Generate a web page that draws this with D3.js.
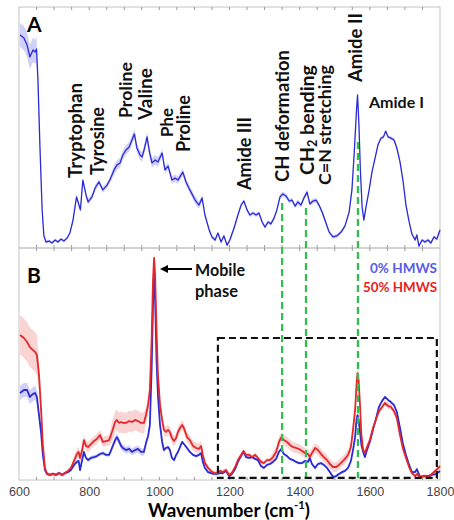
<!DOCTYPE html>
<html>
<head>
<meta charset="utf-8">
<script src="https://cdn.jsdelivr.net/npm/d3@7"></script>
<style>
  body { margin: 0; background: #fff; }
  svg { display: block; }
</style>
</head>
<body>
<svg id="chart" width="454" height="520"></svg>
<script>
// === DATA ===
// Panel A: mean spectrum (arbitrary units, 0-100) and its spread
const waveA = [603, 614, 623, 631, 640, 646, 650, 654, 660, 666,
  671, 677, 686, 694, 703, 711, 720, 728, 737, 745,
  754, 764, 771, 775, 782, 791, 797, 808, 817, 828,
  839, 851, 859, 871, 879, 888, 896, 905, 914, 922,
  929, 936, 945, 951, 958, 965, 972, 979, 988, 996,
  1008, 1016, 1025, 1036, 1045, 1053, 1067, 1076, 1087, 1102,
  1113, 1122, 1130, 1142, 1150, 1159, 1167, 1176, 1184, 1193,
  1201, 1213, 1224, 1233, 1241, 1250, 1258, 1267, 1276, 1284,
  1293, 1301, 1310, 1318, 1327, 1335, 1344, 1352, 1361, 1370,
  1378, 1387, 1395, 1404, 1412, 1421, 1429, 1438, 1447, 1455,
  1464, 1472, 1484, 1495, 1506, 1518, 1529, 1541, 1549, 1556,
  1562, 1565, 1569, 1573, 1578, 1583, 1589, 1598, 1606, 1615,
  1623, 1632, 1639, 1645, 1652, 1660, 1669, 1677, 1686, 1695,
  1703, 1712, 1720, 1729, 1734, 1740, 1749, 1757, 1766, 1774,
  1783, 1791, 1800];
const intA = [88.4, 87.1, 84.2, 79.3, 82.2, 81.3, 82.6, 69.7, 40.7, 15.8,
  5.0, 2.5, 2.9, 2.1, 3.3, 2.5, 3.7, 2.9, 4.1, 6.2,
  11.6, 21.2, 17.8, 15.8, 28.2, 22.0, 19.1, 21.2, 24.9, 27.4,
  24.1, 26.1, 28.2, 32.4, 34.4, 35.3, 38.6, 40.7, 41.9, 44.8,
  47.3, 41.5, 38.6, 37.8, 41.5, 46.1, 39.8, 35.3, 36.5, 35.7,
  39.4, 32.4, 34.0, 28.2, 29.0, 28.2, 31.5, 27.4, 24.1, 19.9,
  17.8, 20.7, 13.7, 7.5, 4.6, 3.3, 6.2, 2.5, 5.0, 1.2,
  3.3, 8.3, 13.7, 17.8, 19.5, 15.8, 13.7, 14.5, 13.7, 14.5,
  10.8, 8.7, 10.8, 10.0, 12.4, 15.8, 21.2, 22.4, 21.6, 19.5,
  19.9, 17.4, 19.1, 17.8, 20.7, 23.2, 18.3, 19.5, 19.9, 17.8,
  14.9, 11.6, 6.6, 4.6, 5.0, 6.6, 9.1, 14.9, 24.1, 40.7,
  57.3, 63.5, 51.0, 32.4, 17.0, 11.6, 17.0, 24.1, 31.5, 37.3,
  42.7, 45.6, 46.1, 48.5, 46.1, 45.6, 44.8, 41.5, 35.7, 27.4,
  17.8, 10.8, 5.8, 3.3, 5.4, 0.8, 3.3, 2.5, 3.3, 2.1,
  4.6, 3.7, 7.5];
const sdA = [5.0, 5.0, 5.0, 5.0, 5.0, 5.0, 5.0, 3.0, 1.5, 0.6,
  0.6, 0.6, 0.6, 0.6, 0.6, 0.6, 0.6, 0.6, 0.6, 0.6,
  1.2, 1.2, 1.2, 1.2, 1.2, 1.2, 1.2, 1.2, 1.2, 1.2,
  1.2, 1.2, 1.2, 2.0, 2.0, 2.0, 2.0, 2.0, 2.0, 2.0,
  2.0, 2.0, 2.0, 2.0, 2.0, 2.0, 2.0, 2.0, 2.0, 2.0,
  1.5, 1.5, 1.5, 1.5, 1.5, 1.5, 1.5, 1.5, 1.5, 1.5,
  1.5, 1.5, 0.8, 0.8, 0.8, 0.8, 0.8, 0.8, 0.8, 0.8,
  0.8, 0.8, 0.8, 0.8, 0.8, 0.8, 0.8, 0.8, 0.8, 0.8,
  0.8, 0.8, 0.8, 0.8, 0.8, 1.0, 1.0, 1.0, 1.0, 1.0,
  1.0, 1.0, 1.0, 1.0, 1.0, 1.0, 1.0, 1.0, 1.0, 1.0,
  1.0, 1.0, 0.8, 0.8, 0.8, 0.8, 0.8, 0.8, 1.2, 1.2,
  1.2, 1.2, 1.2, 1.2, 0.7, 0.7, 0.7, 0.7, 0.7, 0.7,
  0.7, 0.7, 0.7, 0.7, 0.7, 0.7, 0.7, 0.7, 0.7, 0.7,
  0.7, 0.7, 0.7, 0.7, 0.7, 0.7, 0.7, 0.7, 0.7, 0.7,
  0.7, 0.7, 0.7];

// Panel B: 0% HMWS (blue) and 50% HMWS (red) on one wavenumber grid
const waveB = [603, 614, 623, 631, 640, 646, 651, 657, 663, 668,
  674, 680, 688, 697, 705, 714, 723, 731, 740, 748,
  757, 765, 770, 774, 780, 785, 791, 797, 805, 814,
  822, 831, 839, 848, 857, 865, 874, 879, 885, 891,
  896, 905, 914, 922, 931, 939, 948, 956, 962, 968,
  973, 978, 982, 985, 988, 992, 996, 1002, 1008, 1013,
  1019, 1025, 1030, 1036, 1042, 1048, 1053, 1059, 1065, 1070,
  1079, 1087, 1096, 1105, 1113, 1119, 1124, 1130, 1139, 1147,
  1156, 1164, 1173, 1181, 1190, 1199, 1207, 1216, 1224, 1233,
  1240, 1247, 1256, 1264, 1273, 1281, 1290, 1298, 1307, 1315,
  1324, 1333, 1341, 1348, 1355, 1364, 1372, 1381, 1390, 1398,
  1407, 1415, 1424, 1429, 1435, 1444, 1452, 1461, 1469, 1478,
  1486, 1495, 1504, 1512, 1521, 1529, 1538, 1546, 1552, 1558,
  1562, 1565, 1568, 1572, 1576, 1581, 1586, 1592, 1600, 1609,
  1618, 1626, 1635, 1643, 1652, 1660, 1669, 1677, 1686, 1694,
  1703, 1712, 1720, 1729, 1734, 1743, 1754, 1766, 1777, 1789,
  1800];
const int0 = [37.5, 38.8, 38.8, 35.8, 37.1, 37.5, 35.8, 28.0, 20.3, 10.8,
  4.3, 2.6, 2.2, 2.6, 2.2, 3.0, 2.2, 3.0, 3.4, 4.3,
  6.5, 7.8, 8.2, 4.3, 8.6, 12.1, 9.5, 8.6, 9.5, 9.9,
  10.3, 11.2, 11.6, 10.8, 10.8, 13.8, 17.2, 18.5, 16.8, 14.7,
  13.8, 12.9, 13.4, 12.1, 12.9, 13.4, 12.1, 12.1, 15.9, 19.0,
  23.7, 47.4, 75.4, 89.7, 77.6, 51.7, 36.6, 23.7, 16.4, 12.9,
  13.8, 14.2, 12.9, 9.5, 8.6, 10.8, 12.1, 14.2, 16.4, 15.5,
  13.8, 12.1, 10.8, 10.3, 10.8, 11.6, 7.8, 5.2, 3.4, 3.0,
  2.6, 2.6, 3.0, 3.0, 3.9, 1.7, 2.6, 4.7, 7.8, 10.3,
  12.1, 9.9, 9.5, 9.9, 9.1, 8.6, 6.0, 5.2, 6.5, 6.9,
  7.8, 9.1, 12.1, 13.4, 11.2, 10.3, 9.1, 8.6, 7.8, 7.3,
  7.3, 8.2, 7.8, 9.5, 6.9, 5.2, 6.9, 7.3, 6.5, 5.2,
  3.4, 1.3, 1.7, 2.6, 3.4, 3.9, 5.2, 8.2, 12.9, 18.5,
  25.9, 28.0, 25.9, 20.7, 15.1, 12.1, 9.9, 12.9, 16.4, 21.6,
  26.7, 31.5, 34.1, 35.8, 34.5, 33.6, 32.3, 29.3, 22.4, 15.9,
  10.8, 6.5, 3.4, 3.4, 4.7, 1.3, 1.7, 1.7, 2.2, 2.6,
  3.9];
const sd0 = [3.0, 3.0, 3.0, 3.0, 3.0, 3.0, 3.0, 2.0, 1.5, 1.0,
  0.6, 0.6, 0.6, 0.6, 0.6, 0.6, 0.6, 0.6, 0.6, 0.6,
  0.8, 0.8, 0.8, 0.8, 0.8, 0.8, 0.8, 0.8, 0.8, 0.8,
  0.8, 0.8, 0.8, 0.8, 0.8, 1.5, 1.5, 1.5, 1.5, 1.5,
  1.5, 1.5, 1.5, 1.5, 1.5, 1.5, 1.5, 1.5, 1.0, 1.0,
  1.0, 1.0, 1.0, 1.0, 1.0, 1.0, 1.0, 1.0, 1.0, 1.0,
  0.6, 0.6, 0.6, 0.6, 0.6, 0.6, 0.6, 0.6, 0.6, 0.6,
  0.6, 0.6, 0.6, 0.6, 0.6, 0.6, 0.6, 0.6, 0.6, 0.6,
  0.6, 0.6, 0.6, 0.6, 0.6, 0.6, 0.6, 0.6, 0.6, 0.6,
  0.6, 0.6, 0.6, 0.6, 0.6, 0.6, 0.6, 0.6, 0.6, 0.6,
  0.6, 0.6, 0.6, 0.6, 0.6, 0.6, 0.6, 0.6, 0.6, 0.6,
  0.6, 0.6, 0.6, 0.6, 0.6, 0.6, 0.6, 0.6, 0.6, 0.6,
  0.6, 0.6, 0.6, 0.6, 0.6, 0.6, 0.6, 0.6, 1.0, 1.0,
  1.0, 1.0, 1.0, 1.0, 1.0, 0.6, 0.6, 0.6, 0.6, 0.6,
  0.6, 0.6, 0.6, 0.6, 0.6, 0.6, 0.6, 0.6, 0.6, 0.6,
  0.6, 0.6, 0.6, 0.6, 0.6, 0.6, 0.6, 0.6, 0.6, 0.6,
  0.6];
const int50 = [62.5, 61.2, 59.5, 57.3, 56.0, 55.2, 53.9, 45.3, 30.2, 15.1,
  5.2, 2.6, 2.2, 2.6, 2.2, 3.0, 2.2, 3.0, 3.9, 5.2,
  8.2, 11.2, 12.1, 9.5, 12.9, 17.2, 14.7, 14.2, 15.5, 16.8,
  17.7, 19.4, 16.4, 16.8, 17.2, 20.7, 25.0, 25.9, 24.6, 25.0,
  24.6, 24.6, 25.4, 25.0, 25.9, 25.4, 24.6, 24.6, 28.0, 32.3,
  38.8, 60.3, 86.2, 95.7, 88.4, 64.7, 45.3, 32.3, 25.9, 21.6,
  20.7, 21.6, 20.7, 18.1, 16.8, 18.1, 20.7, 22.4, 23.7, 22.4,
  18.5, 17.2, 14.7, 13.8, 13.4, 14.7, 10.8, 7.3, 5.2, 3.9,
  3.0, 3.0, 3.9, 3.4, 4.3, 2.2, 3.0, 5.6, 8.6, 10.8,
  12.5, 10.8, 10.8, 9.9, 10.8, 9.5, 7.8, 7.3, 8.6, 8.6,
  9.9, 12.1, 16.4, 18.5, 17.2, 16.4, 15.1, 14.2, 13.8, 13.4,
  12.5, 11.6, 11.2, 9.9, 11.6, 13.8, 12.9, 11.2, 9.9, 8.6,
  6.9, 5.6, 5.6, 6.5, 7.8, 9.1, 10.8, 14.2, 21.6, 30.2,
  40.9, 46.1, 43.1, 32.3, 19.4, 12.9, 11.6, 14.2, 17.2, 22.4,
  26.3, 29.7, 31.5, 33.2, 31.9, 31.5, 29.7, 26.7, 19.4, 13.8,
  9.5, 5.6, 3.0, 1.7, 2.6, 1.3, 1.7, 1.3, 2.6, 4.3,
  6.0];
const sd50 = [8.5, 8.5, 8.5, 8.5, 8.5, 8.5, 8.5, 6.0, 4.0, 2.5,
  0.8, 0.8, 0.8, 0.8, 0.8, 0.8, 0.8, 0.8, 0.8, 0.8,
  2.2, 2.2, 2.2, 2.2, 2.2, 2.2, 2.2, 2.2, 2.2, 2.2,
  2.2, 2.2, 2.2, 2.2, 2.2, 4.5, 4.5, 4.5, 4.5, 4.5,
  4.5, 4.5, 4.5, 4.5, 4.5, 4.5, 4.5, 4.5, 3.5, 3.5,
  3.5, 2.0, 2.0, 2.0, 2.0, 2.0, 2.5, 2.5, 2.5, 2.5,
  2.2, 2.2, 2.2, 2.2, 2.2, 2.2, 2.2, 2.2, 2.2, 2.2,
  2.2, 2.2, 2.2, 2.2, 2.2, 2.2, 1.0, 1.0, 1.0, 1.0,
  1.0, 1.0, 1.0, 1.0, 1.0, 1.0, 1.0, 1.0, 1.0, 1.0,
  1.0, 1.0, 1.0, 1.0, 1.0, 1.0, 1.0, 1.0, 1.0, 1.0,
  2.2, 2.2, 2.2, 2.2, 2.2, 2.2, 2.2, 2.2, 2.2, 2.2,
  2.2, 2.2, 2.2, 2.2, 2.2, 2.2, 2.2, 2.2, 2.2, 2.2,
  2.2, 2.2, 2.2, 2.2, 2.2, 2.2, 2.2, 2.2, 2.5, 2.5,
  2.5, 2.5, 2.5, 2.5, 2.5, 1.3, 1.3, 1.3, 1.3, 1.3,
  1.3, 1.3, 1.3, 1.3, 1.3, 1.3, 1.3, 1.3, 1.3, 1.3,
  0.8, 0.8, 0.8, 0.8, 0.8, 0.8, 0.8, 0.8, 0.8, 0.8,
  0.8];

const tickLabels = [600, 800, 1000, 1200, 1400, 1600, 1800];
const bandNames = ["Tryptophan", "Tyrosine", "Proline", "Valine", "Phe", "Proline",
  "Amide III", "CH deformation", "CH2 bending", "C=N stretching", "Amide II"];
const markerWaves = [1350, 1418, 1566];   // green dashed guides
const markerTops = [18.7, 16.6, 44];      // where each guide starts in panel A
const zoomBox = [1167, 1791, 0.9, 61.2];  // wave from/to, intensity B from/to
const seriesNames = ["0% HMWS", "50% HMWS"];

// === SCALES ===
const svg = d3.select("#chart");
const x = d3.scaleLinear().domain([600, 1800]).range([19, 440]);
const yA = d3.scaleLinear().domain([0, 100]).range([248, 7]);
const yB = d3.scaleLinear().domain([0, 100]).range([480, 248]);

const BLUE = "#2b2bd6", RED = "#e5262a", GREEN = "#2fbf4f";
const boldFont = "Lato, 'Open Sans', sans-serif";

// scale the font so the text takes the width measured on the figure
function fitText(sel, target) {
  const len = sel.node().getComputedTextLength();
  const size = parseFloat(sel.attr("font-size"));
  sel.attr("font-size", (size * target / len).toFixed(2));
}

// === FRAMES & TICKS ===
function drawFrame(y) {
  const [b, t] = y.range();
  svg.append("rect")
    .attr("x", x.range()[0]).attr("y", t)
    .attr("width", x.range()[1] - x.range()[0]).attr("height", b - t)
    .attr("fill", "none").attr("stroke", "#c4c4c4").attr("stroke-width", 1);
  const minor = d3.range(650, 1800, 50);
  svg.append("g").selectAll("line").data(minor).enter().append("line")
    .attr("x1", d => x(d)).attr("x2", d => x(d))
    .attr("y1", b).attr("y2", b - 3)
    .attr("stroke", "#9a9a9a");
  svg.append("g").selectAll("line").data(minor).enter().append("line")
    .attr("x1", d => x(d)).attr("x2", d => x(d))
    .attr("y1", t).attr("y2", t + 3)
    .attr("stroke", "#9a9a9a");
}
drawFrame(yA);
drawFrame(yB);

// bottom tick labels via axis
const axis = svg.append("g")
  .attr("transform", "translate(0,480)")
  .call(d3.axisBottom(x).tickValues(tickLabels).tickSize(0).tickPadding(7).tickFormat(d3.format("d")));
axis.select(".domain").remove();
axis.selectAll("text")
  .attr("font-family", "'Liberation Sans', Arial, sans-serif")
  .attr("font-size", 12.5)
  .attr("fill", "#444");

// === SPECTRA ===
function drawSeries(waves, vals, sds, y, color, band, width) {
  const rows = waves.map((w, i) => ({ w: w, v: vals[i], s: sds[i] }));
  svg.append("path").datum(rows)
    .attr("d", d3.area().x(d => x(d.w)).y0(d => y(d.v - d.s)).y1(d => y(d.v + d.s)))
    .attr("fill", band);
  return function () {
    svg.append("path").datum(rows)
      .attr("d", d3.line().x(d => x(d.w)).y(d => y(d.v)))
      .attr("fill", "none").attr("stroke", color)
      .attr("stroke-width", width).attr("stroke-linejoin", "round");
  };
}

const lineA = drawSeries(waveA, intA, sdA, yA, BLUE, "rgba(110,110,235,0.32)", 1.3);
const line0 = drawSeries(waveB, int0, sd0, yB, BLUE, "rgba(110,110,235,0.32)", 1.8);
const line50 = drawSeries(waveB, int50, sd50, yB, RED, "rgba(240,110,110,0.3)", 1.8);
lineA();
line0();
line50();

// === GUIDES ===
svg.append("g").selectAll("line").data(markerWaves).enter().append("line")
  .attr("x1", d => x(d)).attr("x2", d => x(d))
  .attr("y1", (d, i) => yA(markerTops[i])).attr("y2", yB(0.8))
  .attr("stroke", GREEN).attr("stroke-width", 2.2)
  .attr("stroke-dasharray", "7,4");

svg.append("rect")
  .attr("x", x(zoomBox[0])).attr("y", yB(zoomBox[3]))
  .attr("width", x(zoomBox[1]) - x(zoomBox[0]))
  .attr("height", yB(zoomBox[2]) - yB(zoomBox[3]))
  .attr("fill", "none").attr("stroke", "#111").attr("stroke-width", 2.2)
  .attr("stroke-dasharray", "7,4");

// === LABELS ===
// [baseline x, start y, measured length]
const bandLayout = [[81.5, 178, 95], [104, 175, 68], [131.5, 118, 56], [151.5, 120, 52],
  [172.5, 137, 29], [190, 152, 57], [251, 190, 73], [288.5, 182, 132],
  [313.5, 175, 110], [330.5, 185, 120], [362, 82, 69]];

bandNames.forEach((name, i) => {
  const [bx, by, len] = bandLayout[i];
  const t = svg.append("text")
    .attr("transform", "translate(" + bx + "," + by + ") rotate(-90)")
    .attr("font-family", boldFont).attr("font-weight", 700)
    .attr("font-size", 14).attr("fill", "#111");
  if (name === "CH2 bending") {
    t.append("tspan").text("CH");
    t.append("tspan").text("2").attr("font-size", "0.65em").attr("dy", 3);
    t.append("tspan").text(" bending").attr("dy", -3);
  } else {
    t.text(name);
  }
  fitText(t, len);
});

const amideI = svg.append("text")
  .attr("x", 369).attr("y", 108)
  .attr("font-family", boldFont).attr("font-weight", 700)
  .attr("font-size", 14).attr("fill", "#111").text("Amide I");
fitText(amideI, 55);

svg.append("text").attr("x", 27).attr("y", 32)
  .attr("font-family", boldFont).attr("font-weight", 700)
  .attr("font-size", 21).attr("fill", "#000").text("A");
svg.append("text").attr("x", 27).attr("y", 283)
  .attr("font-family", boldFont).attr("font-weight", 700)
  .attr("font-size", 21).attr("fill", "#000").text("B");

// mobile phase arrow
svg.append("line")
  .attr("x1", 192).attr("x2", 166).attr("y1", 269).attr("y2", 269)
  .attr("stroke", "#000").attr("stroke-width", 2);
svg.append("path")
  .attr("d", "M160,269 L168,265 L168,273 Z")
  .attr("fill", "#000");
const mob = svg.append("text").attr("x", 195).attr("y", 276)
  .attr("font-family", boldFont).attr("font-weight", 700)
  .attr("font-size", 14).attr("fill", "#111").text("Mobile");
fitText(mob, 50);
const pha = svg.append("text").attr("x", 195).attr("y", 297)
  .attr("font-family", boldFont).attr("font-weight", 700)
  .attr("font-size", 14).attr("fill", "#111").text("phase");
fitText(pha, 43);

// legend
const legColors = ["#5a5ae6", "#e62222"];
const legLens = [67, 74];
seriesNames.forEach((name, i) => {
  const t = svg.append("text").attr("x", 437).attr("y", 273 + i * 19)
    .attr("text-anchor", "end")
    .attr("font-family", boldFont).attr("font-weight", 700)
    .attr("font-size", 14).attr("fill", legColors[i]).text(name);
  fitText(t, legLens[i]);
});

// x-axis title
const title = svg.append("text").attr("x", 229).attr("y", 517)
  .attr("text-anchor", "middle")
  .attr("font-family", boldFont).attr("font-weight", 700)
  .attr("font-size", 18).attr("fill", "#000");
title.append("tspan").text("Wavenumber (cm");
title.append("tspan").text("-1").attr("font-size", "0.6em").attr("dy", -8);
title.append("tspan").text(")").attr("dy", 8);
fitText(title, 162);
</script>
</body>
</html>
